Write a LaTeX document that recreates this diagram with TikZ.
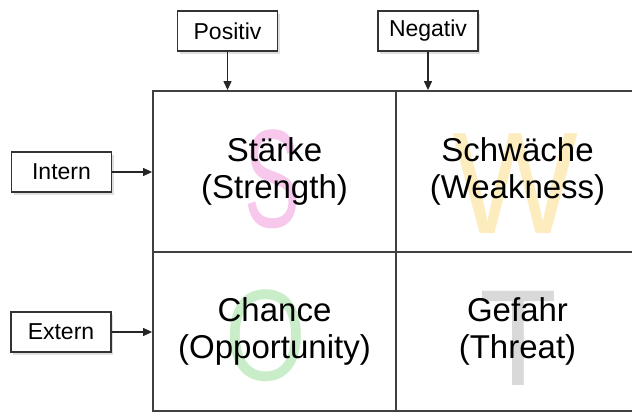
\documentclass[tikz,border=0pt]{standalone}
\usepackage{fontspec}
\setmainfont{Liberation Sans}
\usetikzlibrary{arrows.meta,shadows,positioning}

\begin{document}
\begin{tikzpicture}[x=1pt,y=-1pt,thick]
	\tikzset{
		etichetta/.style={draw=black!80, fill=white, line width=1.3pt, minimum width=100pt, minimum height=40pt,
			font=\fontsize{23}{23}\selectfont, drop shadow={opacity=0.25, shadow xshift=2pt, shadow yshift=-3pt}},
		cella/.style={draw=black!75, line width=1.8pt, minimum width=243pt, align=center, font=\fontsize{33}{37}\selectfont},
		lettera/.style={inner sep=0pt, font=\fontsize{140}{140}\selectfont},
		freccia/.style={-{Triangle[length=9pt,width=8pt]}, line width=1.2pt, black!85}
	}
	\useasboundingbox (0,0) rectangle (632,414);
	\clip (0,0) rectangle (632,414);
	% lettere di sfondo
	\node[lettera, text={rgb,255:red,247;green,200;blue,236}, xscale=0.6] (bgS) at (273,179) {S};
	\node[lettera, text={rgb,255:red,253;green,236;blue,190}, font=\fontsize{145}{145}\selectfont, xscale=0.92] (bgW) at (515,184) {W};
	\node[lettera, text={rgb,255:red,200;green,237;blue,200}, font=\fontsize{130}{130}\selectfont, xscale=0.8] (bgO) at (266,336) {O};
	\node[lettera, text=black!15, font=\fontsize{137}{137}\selectfont, xscale=0.93] (bgT) at (518,338) {T};
	% matrice
	\node[cella, minimum height=161pt] (s) at (274.5,171.5) {Stärke\\(Strength)};
	\node[cella, minimum height=161pt] (w) at (517.5,171.5) {Schwäche\\(Weakness)};
	\node[cella, minimum height=159pt] (o) at (274.5,331.5) {Chance\\(Opportunity)};
	\node[cella, minimum height=159pt] (t) at (517.5,331.5) {Gefahr\\(Threat)};
	% etichette
	\node[etichetta] (pos) at (227.5,31) {Positiv};
	\node[etichetta] (neg) at (428,31) {Negativ};
	\node[etichetta] (int) at (61.5,172) {Intern};
	\node[etichetta] (ext) at (61,332) {Extern};
	% collegamento etichette
	\draw[freccia] (pos) -- (pos |- s.north);
	\draw[freccia] (neg) -- (neg |- w.north);
	\draw[freccia] (int) -- (int -| s.west);
	\draw[freccia] (ext) -- (ext -| o.west);
\end{tikzpicture}
\end{document}
